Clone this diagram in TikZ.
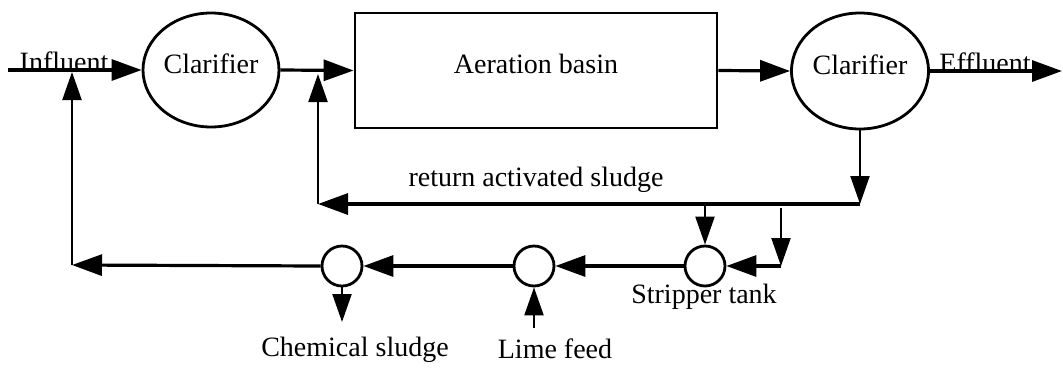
\documentclass[tikz,border=0pt]{standalone}
\usepackage{fontspec}
\setmainfont{Liberation Serif}
\usetikzlibrary{arrows.meta,shapes.geometric}
\begin{document}
\begin{tikzpicture}[x=1pt,y=-1pt,
  font=\fontsize{28}{30}\selectfont,
  flow/.style={line width=3.2pt,-{Triangle[length=30pt,width=21pt]}},
  thinflow/.style={line width=2.2pt,-{Triangle[length=28pt,width=19pt]}},
  vessel/.style={ellipse,draw,line width=2.8pt,minimum width=136pt,
    minimum height=114pt,inner sep=0pt,text height=20pt,text depth=14pt},
  basinbox/.style={rectangle,draw,line width=2.8pt,minimum width=362pt,
    minimum height=115pt,inner sep=0pt,text height=20pt,text depth=14pt},
  tank/.style={circle,draw,line width=2.8pt,minimum size=40pt,inner sep=0pt},
  lbl/.style={inner sep=0pt}]
\useasboundingbox (0,0) rectangle (1063,368);

% main treatment line
\node[vessel] (clar1) at (211,70) {Clarifier};
\node[basinbox] (basin) at (536,70.5) {Aeration basin};
\node[vessel,minimum width=137pt,minimum height=116pt] (clar2) at (860,71) {Clarifier};

\coordinate (in) at (8,70);
\coordinate (out) at (1062,71);
\draw[flow] (in) -- (clar1.west);
\draw[flow] (clar1.east) -- (basin.west);
\draw[flow] (basin.east) -- (clar2.west);
\draw[flow] (clar2.east) -- (out);
\node[lbl,anchor=base] (influent) at (64,71) {Influent};
\node[lbl,anchor=base] (effluent) at (985,72) {Effluent};

% return activated sludge loop
\coordinate (rsplit) at (860,204);
\coordinate (rcorner) at (318,204);
\coordinate (rjoin) at (318,74);
\draw[thinflow] (clar2.south) -- (rsplit);
\draw[flow] (rsplit) -- (rcorner);
\draw[thinflow] (rcorner) -- (rjoin);
\node[lbl] (ras) at (536,180) {return activated sludge};

% phosphorus stripping side stream
\node[tank] (strip) at (705,266) {};
\node[tank] (lime) at (534,266) {};
\node[tank] (chem) at (342,266) {};

\coordinate (b1) at (705,204);
\coordinate (b2top) at (781,208);
\coordinate (b2bot) at (781,266);
\draw[thinflow] (b1) -- (strip.north);
\draw[thinflow] (b2top) -- (b2bot);
\draw[flow] (b2bot) -- (strip.east);

\draw[flow] (strip.west) -- (lime.east);
\draw[flow] (lime.west) -- (chem.east);

\coordinate (lcorner) at (72,265);
\coordinate (ljoin) at (72,72);
\draw[flow] (chem.west) -- (lcorner);
\draw[thinflow] (lcorner) -- (ljoin);

\coordinate (csout) at (342,322);
\coordinate (lfin) at (534,328);
\draw[thinflow] (chem.south) -- (csout);
\draw[thinflow] (lfin) -- (lime.south);

\node[lbl] (striplbl) at (704,297) {Stripper tank};
\node[lbl] (cslbl) at (355,350) {Chemical sludge};
\node[lbl] (lflbl) at (555,349) {Lime feed};
\end{tikzpicture}
\end{document}
